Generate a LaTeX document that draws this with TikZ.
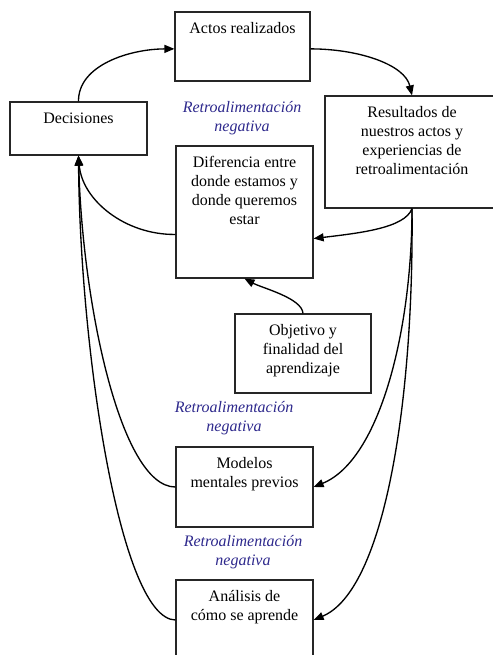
\documentclass[tikz,border=0pt]{standalone}
\usepackage{fontspec}
\setmainfont{Liberation Serif}
\usetikzlibrary{arrows.meta}
\definecolor{fbcol}{RGB}{45,40,140}
\newcommand{\bxt}[3]{\parbox[c][#2][t]{#1}{\centering\rule{0pt}{16pt}#3\par}}
\begin{document}
\begin{tikzpicture}[x=0.75pt,y=-0.75pt,
  font=\fontsize{12}{14.25}\selectfont,
  box/.style={draw=black!85,line width=0.9pt,inner sep=0pt,fill=white},
  fb/.style={align=center,text=fbcol,font=\fontsize{12}{14.25}\selectfont\itshape,inner sep=0pt},
  conn/.style={line width=1pt,-{Triangle[length=7.5pt,width=6pt]}},
  plain/.style={line width=1pt}]
\useasboundingbox (0,0) rectangle (492,655);
\node[box] (act) at (242.5,46.5) {\bxt{101.25pt}{51.75pt}{Actos realizados}};
\node[box] (dec) at (78.5,128.5) {\bxt{102.75pt}{39.75pt}{Decisiones}};
\node[box] (res) at (412,152) {\bxt{130.5pt}{84pt}{Resultados de\\nuestros actos y\\experiencias de\\retroalimentación}};
\node[box] (dif) at (244.5,212) {\bxt{102.75pt}{99pt}{Diferencia entre\\donde estamos y\\donde queremos\\estar}};
\node[box] (obj) at (303,353.5) {\bxt{102pt}{59.25pt}{Objetivo y\\finalidad del\\aprendizaje}};
\node[box] (mod) at (244.5,487) {\bxt{102.75pt}{60pt}{Modelos\\mentales previos}};
\node[box] (ana) at (244.5,620) {\bxt{102.75pt}{60pt}{Análisis de\\cómo se aprende}};
\node[fb] (l1) at (242,118.5) {Retroalimentación\\negativa};
\node[fb] (l2) at (234,418.5) {Retroalimentación\\negativa};
\node[fb] (l3) at (243,552) {Retroalimentación\\negativa};
% main loop
\draw[conn] (dec.north) .. controls (78,65) and (130,49) .. (act.182);
\draw[conn] (act.-2) .. controls (360,49) and (405,65) .. (res.north);
\draw[conn] (res.south) .. controls (405,228) and (360,233) .. (dif.-21.5);
\draw[conn] (dif.198.6) .. controls (125,235) and (82,200) .. (dec.south);
\draw[conn] (obj.north) .. controls (302,298) and (262,288) .. (dif.south);
% right branches
\draw[conn] (res.south) .. controls (412,330) and (380,460) .. (mod.east);
\draw[conn] (res.south) .. controls (414,400) and (385,590) .. (ana.east);
% left branches
\draw[conn] (mod.west) .. controls (120,487) and (82,300) .. (dec.south);
\draw[conn] (ana.west) .. controls (120,619) and (80,350) .. (dec.south);
\end{tikzpicture}
\end{document}
